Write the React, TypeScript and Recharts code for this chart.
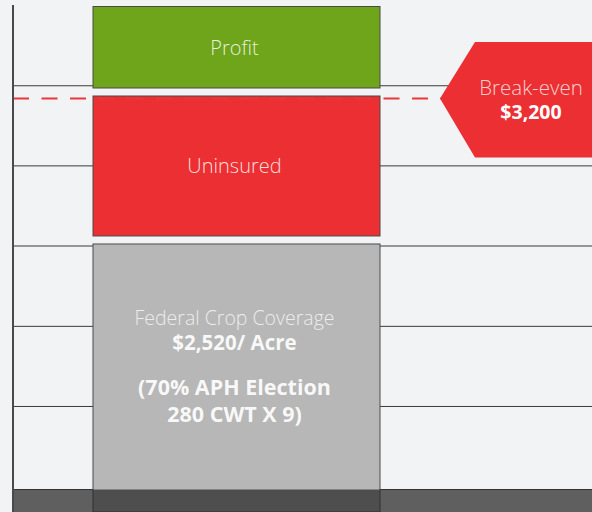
import React from "react";
import { BarChart, Bar, XAxis, YAxis, CartesianGrid, ReferenceLine } from "recharts";

// ---- data ----
const categories = ["Revenue per Acre"];
const federalCoverage = [2520];
const uninsured = [711];
const profit = [418];
const breakEven = 3200;
const yDomain = [1213, 3649];
const gridTicks = [1321, 1720, 2105, 2491, 2876, 3261];
const bandRange = [1213, 1321];

const profitLabel = ["Profit"];
const uninsuredLabel = ["Uninsured"];
const federalLabel = ["Federal Crop Coverage", "$2,520/ Acre", "(70% APH Election", "280 CWT X 9)"];
const breakEvenLabel = ["Break-even", "$3,200"];

const data = categories.map((c, i) => ({
  name: c,
  federal: federalCoverage[i],
  uninsured: uninsured[i],
  profit: profit[i],
}));

const FONT = "'Source Sans Pro', 'Open Sans', Lato, 'Noto Sans', sans-serif";
const BORDER = "#4a4a4a";

const makeShape = (insetTop: number, insetBottom: number, kind: string) => (props: any) => {
  const { x, y, width, height, fill } = props;
  const top = y + insetTop;
  const h = Math.max(0, height - insetTop - insetBottom);
  const cx = x + width / 2 - 2;
  let texts: any = null;
  if (kind === "profit" || kind === "uninsured") {
    const lbl = kind === "profit" ? profitLabel[0] : uninsuredLabel[0];
    texts = (
      <text x={cx} y={top + h / 2 + 7.5} textAnchor="middle" fontFamily={FONT} fontWeight={300} fontSize={20} fill="#ffffff" fillOpacity={0.85}>
        {lbl}
      </text>
    );
  } else if (kind === "federal") {
    texts = (
      <g fontFamily={FONT} textAnchor="middle">
        <text x={cx} y={top + 81.5} fontWeight={300} fontSize={19.5} fill="#ffffff" fillOpacity={0.75}>{federalLabel[0]}</text>
        <text x={cx} y={top + 106.5} fontWeight={700} fontSize={20.5} fill="#ffffff" fillOpacity={0.92}>{federalLabel[1]}</text>
        <text x={cx} y={top + 151} fontWeight={700} fontSize={21.5} fill="#ffffff" fillOpacity={0.92}>{federalLabel[2]}</text>
        <text x={cx} y={top + 178} fontWeight={700} fontSize={21.5} fill="#ffffff" fillOpacity={0.92}>{federalLabel[3]}</text>
      </g>
    );
  }
  return (
    <g>
      <rect x={x} y={top} width={width} height={h} fill={fill} stroke={BORDER} strokeWidth={1} />
      {texts}
    </g>
  );
};

const renderBreakEven = (props: any) => {
  const vb = props.viewBox || {};
  const y = vb.y;
  const right = vb.x + vb.width;
  const tipX = right - 152;
  const cornerX = right - 117;
  const pts = `${tipX},${y} ${cornerX},${y - 56.5} ${right + 10},${y - 56.5} ${right + 10},${y + 59} ${cornerX},${y + 59}`;
  const cx = right - 61;
  return (
    <g>
      <polygon points={pts} fill="#eb2f33" />
      <text x={cx} y={y - 3} textAnchor="middle" fontFamily={FONT} fontWeight={300} fontSize={20.5} fill="#ffffff" fillOpacity={0.78}>
        {breakEvenLabel[0]}
      </text>
      <text x={cx} y={y + 21} textAnchor="middle" fontFamily={FONT} fontWeight={700} fontSize={19.5} fill="#ffffff">
        {breakEvenLabel[1]}
      </text>
    </g>
  );
};

// map grid values to pixels through the y axis of the chart
const gridGenerator = (args: any) => {
  try {
    const ax = args && args.yAxis;
    const s = ax && ax.scale;
    if (typeof s === "function") return gridTicks.map((t) => s(t));
    if (s && typeof s.map === "function" && typeof s.domain === "function") return gridTicks.map((t) => s.map(t));
    if (s && typeof s.scale === "function") return gridTicks.map((t) => s.scale(t));
    const o = args.offset;
    return gridTicks.map((t) => o.top + ((yDomain[1] - t) / (yDomain[1] - yDomain[0])) * o.height);
  } catch (e) {
    return [];
  }
};

export default function App() {
  const bandMid = (bandRange[0] + bandRange[1]) / 2;
  return (
    <div style={{ position: "absolute", left: 0, top: 0, width: 592, height: 512, background: "#f2f3f5", overflow: "hidden" }}>
      <BarChart width={592} height={512} data={data} margin={{ top: 5, right: 0, bottom: 0, left: 0 }}>
        <CartesianGrid
          vertical={false}
          horizontalCoordinatesGenerator={gridGenerator}
          syncWithTicks
          stroke="#3a3a3a"
          strokeWidth={1}
        />
        <XAxis dataKey="name" hide height={0} padding={{ left: 0, right: 131.4 }} />
        <YAxis
          width={13}
          domain={yDomain}
          ticks={gridTicks}
          allowDataOverflow
          tick={false}
          tickLine={false}
          axisLine={{ stroke: "#4a4a4a", strokeWidth: 2 }}
        />
        <ReferenceLine y={breakEven} stroke="#e8383a" strokeWidth={2} strokeDasharray="16 12.5" label={renderBreakEven} />
        <Bar dataKey="federal" stackId="a" fill="#b7b7b7" barSize={287} isAnimationActive={false} shape={makeShape(4, 0, "federal")} />
        <Bar dataKey="uninsured" stackId="a" fill="#eb2f33" barSize={287} isAnimationActive={false} shape={makeShape(4, 4, "uninsured")} />
        <Bar dataKey="profit" stackId="a" fill="#6fa51a" barSize={287} isAnimationActive={false} shape={makeShape(1.5, 4, "profit")} />
        <ReferenceLine y={bandMid} stroke="#262626" strokeOpacity={0.72} strokeWidth={22.5} />
      </BarChart>
    </div>
  );
}
